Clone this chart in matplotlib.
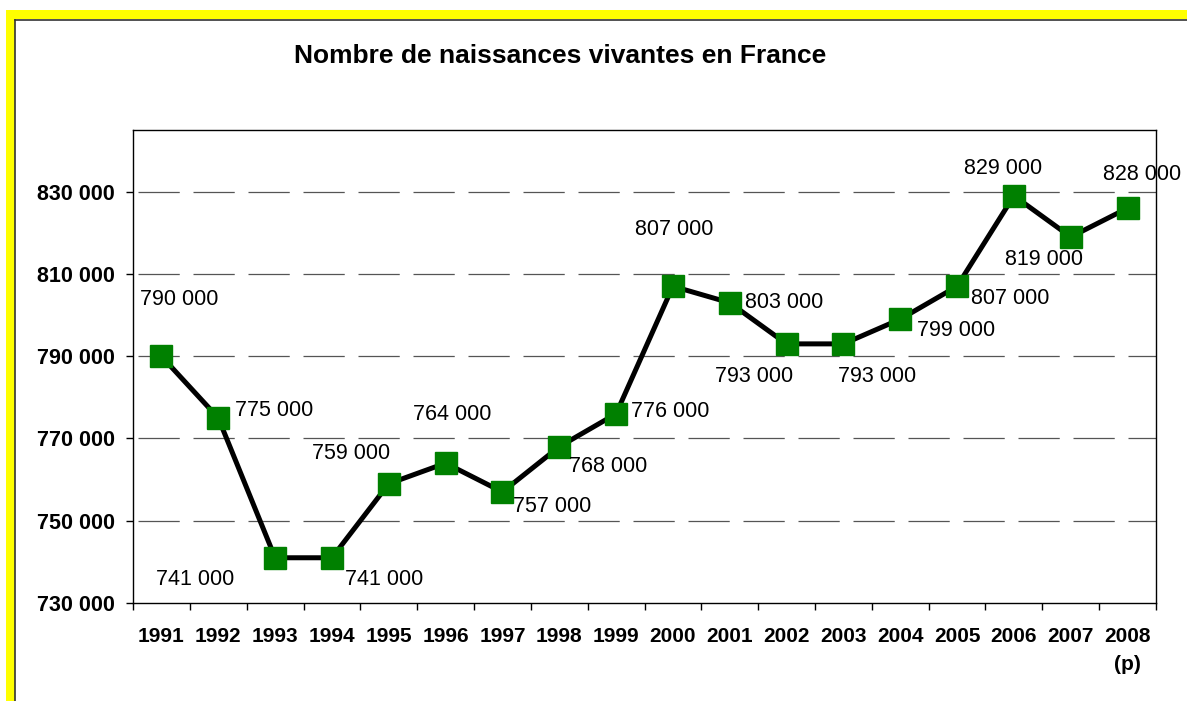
import matplotlib.pyplot as plt
from matplotlib.patches import Rectangle
from matplotlib.lines import Line2D

plt.rcParams['font.family'] = ['Liberation Sans', 'DejaVu Sans']

# data
years = ['1991', '1992', '1993', '1994', '1995', '1996', '1997', '1998', '1999',
         '2000', '2001', '2002', '2003', '2004', '2005', '2006', '2007', '2008\n(p)']
births = [790000, 775000, 741000, 741000, 759000, 764000, 757000, 768000, 776000,
          807000, 803000, 793000, 793000, 799000, 807000, 829000, 819000, 826000]
labels = ['790 000', '775 000', '741 000', '741 000', '759 000', '764 000', '757 000',
          '768 000', '776 000', '807 000', '803 000', '793 000', '793 000', '799 000',
          '807 000', '829 000', '819 000', '828 000']
yticks = [730000, 750000, 770000, 790000, 810000, 830000]

# label offsets from marker centre, in pixels (x right, y up)
offsets = [(18, 57), (56, 7), (-80, -22), (52, -22), (-38, 30), (7, 49), (50, -15),
           (49, -20), (54, 2), (1, 57), (54, 0), (-33, -33), (34, -33), (56, -11),
           (53, -12), (-11, 27), (-27, -23), (14, 34)]

W, H = 1187, 701
fig = plt.figure(figsize=(W / 100, H / 100), dpi=100)

# yellow frame on top and left
fig.patches.append(Rectangle((6 / W, 1 - 19 / H), 1, 9 / H, transform=fig.transFigure,
                             facecolor='#ffff00', edgecolor='none'))
fig.patches.append(Rectangle((6 / W, 0), 9 / W, 1 - 10 / H, transform=fig.transFigure,
                             facecolor='#ffff00', edgecolor='none'))
fig.lines.append(Line2D([15 / W, 1], [1 - 19.5 / H, 1 - 19.5 / H], transform=fig.transFigure,
                        color='#333333', lw=1.2))
fig.lines.append(Line2D([15.5 / W, 15.5 / W], [0, 1 - 19.5 / H], transform=fig.transFigure,
                        color='#333333', lw=1.2))

fig.text(560 / W, 1 - 56 / H, 'Nombre de naissances vivantes en France',
         ha='center', va='center', fontsize=19, fontweight='bold')

ax = fig.add_axes([133 / W, 1 - 603 / H, (1156 - 133) / W, (603 - 130) / H])
x = list(range(len(years)))

for v in yticks[1:]:
    ax.axhline(v, color='#555555', lw=0.9, ls=(40, (33, 11)), zorder=1)

ax.plot(x, births, color='black', lw=3.6, marker='s', markersize=15.5,
        markerfacecolor='#008000', markeredgecolor='#008000', zorder=3)

for xi, yi, t, (dx, dy) in zip(x, births, labels, offsets):
    ax.annotate(t, (xi, yi), xytext=(dx, dy), textcoords='offset pixels',
                ha='center', va='center', fontsize=15.5, annotation_clip=False)

ax.set_xlim(-0.5, len(years) - 0.5)
ax.set_ylim(730000, 845000)
ax.set_yticks(yticks)
ax.set_yticklabels([f'{v:,}'.replace(',', ' ') for v in yticks],
                   fontsize=15.5, fontweight='bold')
ax.set_xticks(x)
ax.set_xticklabels(years, fontsize=15, fontweight='bold', linespacing=1.65)
ax.set_xticks([i - 0.5 for i in range(len(years) + 1)], minor=True)
ax.tick_params(axis='x', which='major', length=0, pad=17)
ax.tick_params(axis='x', which='minor', length=5, width=1, direction='out')
ax.tick_params(axis='y', length=5, width=1, direction='out', pad=8)

for s in ax.spines.values():
    s.set_linewidth(1.0)
    s.set_color('black')

fig.savefig('out.png', dpi=100)
